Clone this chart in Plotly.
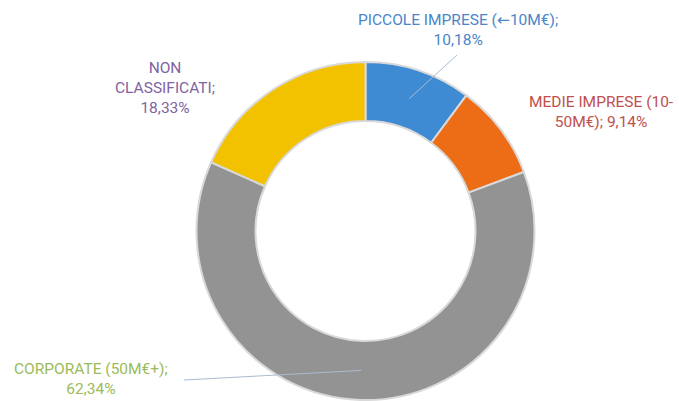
import math
import plotly.graph_objects as go

# Data
categories = ["PICCOLE IMPRESE (←10M€)", "MEDIE IMPRESE (10-50M€)", "CORPORATE (50M€+)", "NON CLASSIFICATI"]
values = [10.18, 9.14, 62.34, 18.33]
value_labels = ["10,18%", "9,14%", "62,34%", "18,33%"]
slice_colors = ["#3f8bd3", "#ec6d15", "#939393", "#f2c200"]
label_colors = ["#4a86c8", "#c0504d", "#9bbb59", "#8064a2"]

W, H = 679, 401
cx, cy, R, r_in = 365.5, 231, 169, 110

fig = go.Figure(go.Pie(
    labels=categories,
    values=values,
    sort=False,
    direction="clockwise",
    rotation=0,
    hole=r_in / R,
    marker=dict(colors=slice_colors, line=dict(color="#d9d9d9", width=2)),
    textinfo="none",
    hoverinfo="label+percent",
    showlegend=False,
    domain=dict(x=[(cx - R) / W, (cx + R) / W], y=[(H - cy - R) / H, (H - cy + R) / H]),
))

def px(x, y):
    return x / W, 1 - y / H

# Leader lines from slice mid-angle (computed from values) to label
total = sum(values)
cum = 0
mids = []
for v in values:
    mids.append((cum + v / 2) / total * 2 * math.pi)
    cum += v
r_mid = (R + r_in) / 2
def mid_point(i):
    a = mids[i]
    return cx + r_mid * math.sin(a), cy - r_mid * math.cos(a)

leaders = {0: (457, 55), 2: (184, 380)}
for i, (ex, ey) in leaders.items():
    sx, sy = mid_point(i)
    x0, y0 = px(sx, sy)
    x1, y1 = px(ex, ey)
    fig.add_shape(type="line", xref="paper", yref="paper", x0=x0, y0=y0, x1=x1, y1=y1,
                  line=dict(color="#a9bccf", width=1))

font_family = "Roboto, Arial, sans-serif"
piccole = categories[0].replace("←", '<span style="font-family:DejaVu Sans">←</span>')
label_texts = [
    piccole + ";<br>" + value_labels[0],
    "MEDIE IMPRESE (10-<br>50M€); " + value_labels[1],
    categories[2] + ";<br>" + value_labels[2],
    "NON<br>CLASSIFICATI;<br>" + value_labels[3],
]
label_pos = [(458, 30), (601, 112), (91, 379), (165, 88)]
for t, (lx, ly), col in zip(label_texts, label_pos, label_colors):
    ax_, ay_ = px(lx, ly)
    fig.add_annotation(x=ax_, y=ay_, xref="paper", yref="paper", text=t, showarrow=False,
                       xanchor="center", yanchor="middle", align="center",
                       font=dict(family=font_family, size=15.5, color=col))

fig.update_layout(
    width=W, height=H,
    margin=dict(l=0, r=0, t=0, b=0),
    paper_bgcolor="white", plot_bgcolor="white",
)
fig.write_html("out.html", config={"displayModeBar": False},
               post_script="document.body.style.margin='0';document.body.style.overflow='hidden';")
